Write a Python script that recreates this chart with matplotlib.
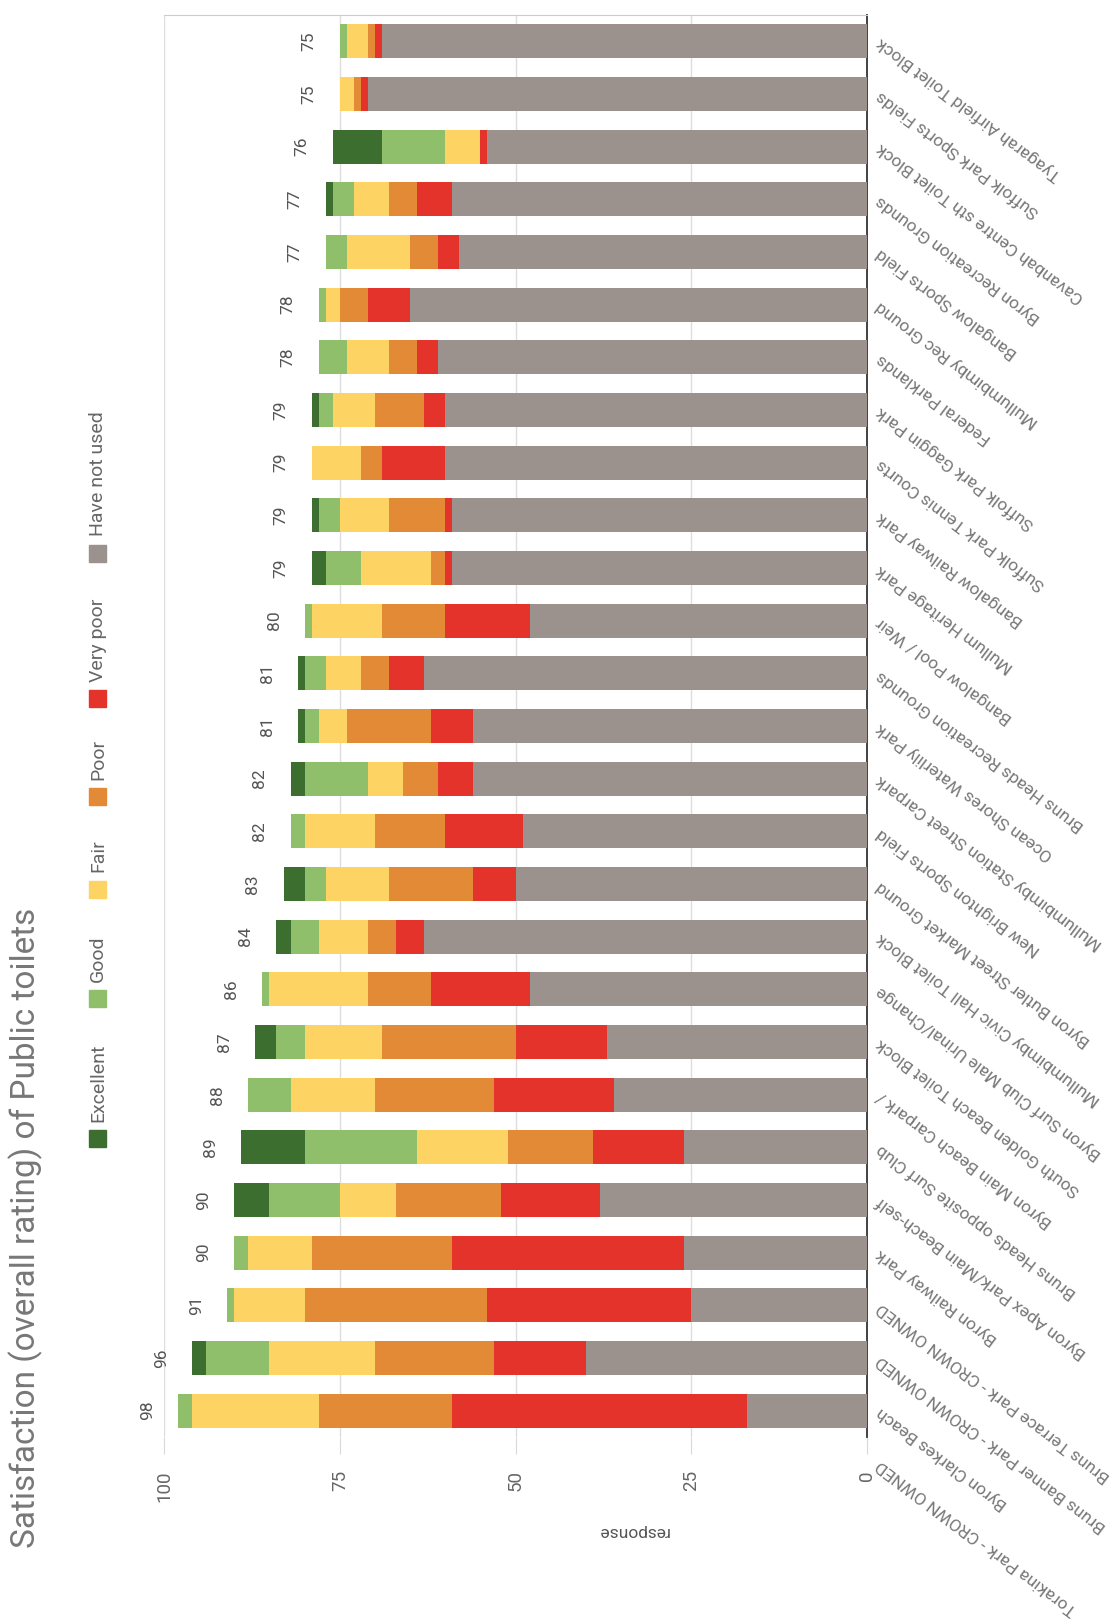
import matplotlib
matplotlib.use("Agg")
import matplotlib.pyplot as plt
from matplotlib.patches import Rectangle

plt.rcParams['font.family'] = ['Roboto', 'DejaVu Sans']

# toilet blocks, top to bottom
sites = [
    "Tyagarah Airfield Toilet Block",
    "Suffolk Park Sports Fields",
    "Cavanbah Centre sth Toilet Block",
    "Byron Recreation Grounds",
    "Bangalow Sports Field",
    "Mullumbimby Rec Ground",
    "Federal Parklands",
    "Suffolk Park Gaggin Park",
    "Suffolk Park Tennis Courts",
    "Bangalow Railway Park",
    "Mullum Heritage Park",
    "Bangalow Pool / Weir",
    "Bruns Heads Recreation Grounds",
    "Ocean Shores Waterlily Park",
    "Mullumbimby Station Street Carpark",
    "New Brighton Sports Field",
    "Byron Butler Street Market Ground",
    "Mullumbimby Civic Hall Toilet Block",
    "Byron Surf Club Male Urinal/Change",
    "South Golden Beach Toilet Block",
    "Byron Main Beach Carpark /",
    "Bruns Heads opposite Surf Club",
    "Byron Apex Park/Main Beach-self",
    "Byron Railway Park",
    "Bruns Terrace Park - CROWN OWNED",
    "Bruns Banner Park - CROWN OWNED",
    "Byron Clarkes Beach",
    "Torakina Park - CROWN OWNED",
]

excellent = [0, 0, 7, 1, 0, 0, 0, 1, 0, 1, 2, 0, 1, 1, 2, 0, 3, 2, 0, 3, 0, 9, 5, 0, 0, 2, 0]
good      = [1, 0, 9, 3, 3, 1, 4, 2, 0, 3, 5, 1, 3, 2, 9, 2, 3, 4, 1, 4, 6, 16, 10, 2, 1, 9, 2]
fair      = [3, 2, 5, 5, 9, 2, 6, 6, 7, 7, 10, 10, 5, 4, 5, 10, 9, 7, 14, 11, 12, 13, 8, 9, 10, 15, 18]
poor      = [1, 1, 0, 4, 4, 4, 4, 7, 3, 8, 2, 9, 4, 12, 5, 10, 12, 4, 9, 19, 17, 12, 15, 20, 26, 17, 19]
very_poor = [1, 1, 1, 5, 3, 6, 3, 3, 9, 1, 1, 12, 5, 6, 5, 11, 6, 4, 14, 13, 17, 13, 14, 33, 29, 13, 42]
not_used  = [69, 71, 54, 59, 58, 65, 61, 60, 60, 59, 59, 48, 63, 56, 56, 49, 50, 63, 48, 37, 36, 26, 38, 26, 25, 40, 17]

ratings = ["Excellent", "Good", "Fair", "Poor", "Very poor", "Have not used"]
colors = ["#3c6e2f", "#90bf6c", "#fdd463", "#e28a36", "#e3332a", "#9b928d"]

W, H = 1119, 1621
fig = plt.figure(figsize=(W / 100, H / 100), dpi=100)
ax = fig.add_axes([164 / W, 1 - 1437 / H, (867 - 164) / W, (1437 - 15) / H])

n = len(not_used)
pos = list(range(n))

# stack from the zero line outwards
series = [not_used, very_poor, poor, fair, good, excellent]
series_colors = colors[::-1]
left = [0] * n
for vals, c in zip(series, series_colors):
    ax.barh(pos, vals, left=left, height=0.65, color=c, zorder=3)
    left = [a + b for a, b in zip(left, vals)]

totals = left
for i, t in enumerate(totals):
    ax.annotate(str(t), xy=(t, i), xytext=(-22, 0), textcoords="offset points",
                rotation=90, ha="center", va="center", fontsize=12.5,
                color="#555555", annotation_clip=False)

ax.set_xlim(100, 0)
ax.set_ylim(n - 0.5, -0.5)

ax.set_xticks([0, 25, 50, 75, 100])
ax.set_xticklabels(["0", "25", "50", "75", "100"], rotation=90, fontsize=13.5, color="#666666")
ax.tick_params(axis="x", length=12, color="#d9d9d9", pad=12)
ax.set_yticks([])
ax.grid(axis="x", color="#dedede", lw=1, zorder=0)

for s in ["left", "bottom"]:
    ax.spines[s].set_visible(False)
ax.spines["top"].set_color("#dcc7b9")
ax.spines["right"].set_color("#333333")
ax.spines["right"].set_linewidth(1.3)

# site names, slanted off the zero line
for k, name in enumerate(sites):
    ax.text(1.016, k, name, transform=ax.get_yaxis_transform(),
            rotation=143, rotation_mode="anchor", ha="right", va="center",
            fontsize=12.5, color="#777777", clip_on=False)

fig.text(633 / W, 1 - 1531 / H, "response", rotation=180, ha="center", va="center",
         fontsize=12.5, color="#555555")

fig.text(26 / W, 1 - 1228 / H, "Satisfaction (overall rating) of Public toilets",
         rotation=90, ha="center", va="center", fontsize=24, color="#777777")

# legend, written bottom to top
legend_y = [1138, 998, 889, 796, 698, 553]
sq = 17
for lab, c, y in zip(ratings, colors, legend_y):
    fig.patches.append(Rectangle(((98 - sq / 2) / W, 1 - (y + sq / 2) / H), sq / W, sq / H,
                                 transform=fig.transFigure, color=c))
    fig.text(98 / W, 1 - (y - sq / 2 - 8) / H, lab, rotation=90, rotation_mode="anchor",
             ha="left", va="center", fontsize=14, color="#666666")

fig.savefig("out.png", dpi=100)
